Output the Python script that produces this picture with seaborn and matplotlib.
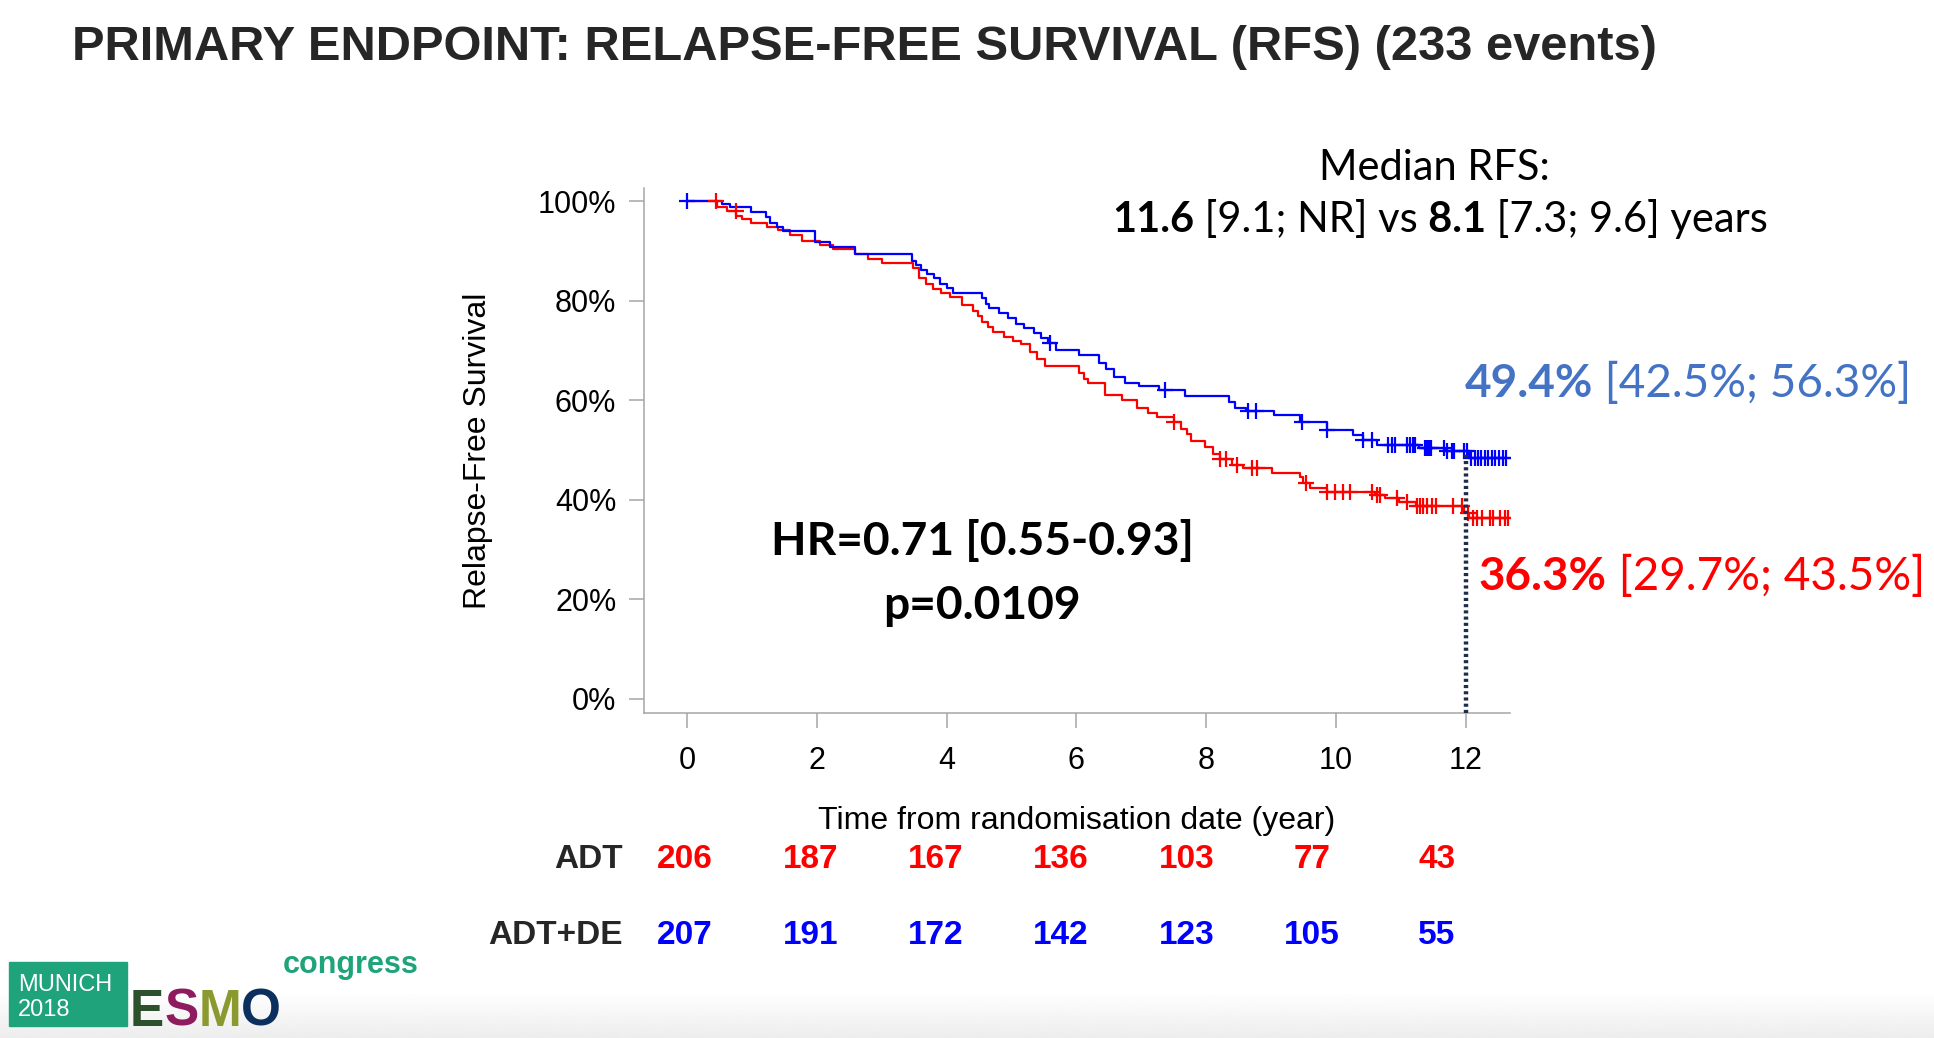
import numpy as np
import pandas as pd
import matplotlib
matplotlib.use("Agg")
import matplotlib.pyplot as plt
import seaborn as sns
from matplotlib.ticker import PercentFormatter
from matplotlib.patches import Rectangle
from matplotlib import font_manager

# ===============================
# Data
# ===============================
# ADT+DE arm: step times (years) and relapse-free survival (%)
time_adt_de = [0, 0.53, 0.66, 0.98, 1.21, 1.28, 1.38, 1.48, 1.97, 2.20,
               2.59, 3.46, 3.52, 3.60, 3.70, 3.80, 3.90, 4.00, 4.10, 4.54,
               4.60, 4.66, 4.80, 4.95, 5.07, 5.20, 5.34, 5.45, 5.56, 5.69,
               6.04, 6.35, 6.45, 6.58, 6.75, 6.97, 7.28, 7.68, 8.35, 8.45,
               8.61, 9.05, 9.45, 9.86, 10.27, 10.42, 10.63, 11.28, 11.69, 12.05]
surv_adt_de = [100, 99.5, 98.9, 97.9, 96.8, 95.6, 94.9, 94.1, 91.9, 90.9,
               89.4, 88.0, 87.2, 86.2, 85.4, 84.6, 83.3, 82.6, 81.5, 80.6,
               79.4, 78.6, 77.6, 76.5, 75.4, 74.6, 73.6, 72.6, 71.5, 70.2,
               69.0, 67.5, 66.2, 64.7, 63.5, 62.8, 62.1, 60.9, 59.6, 58.5,
               57.8, 57.1, 55.6, 54.0, 53.0, 52.0, 51.0, 50.3, 49.7, 48.3]
cens_adt_de = [0.0, 5.60, 7.37, 8.65, 8.77, 9.48, 9.86, 10.42, 10.56, 10.81,
               10.86, 10.91, 11.09, 11.14, 11.19, 11.22, 11.37, 11.40, 11.43, 11.46,
               11.66, 11.71, 11.79, 11.82, 11.97, 12.02, 12.09, 12.14, 12.19, 12.24,
               12.30, 12.35, 12.40, 12.45, 12.52, 12.58, 12.63]

# ADT arm
time_adt = [0, 0.46, 0.62, 0.76, 0.85, 0.98, 1.23, 1.40, 1.58, 1.77,
            2.05, 2.25, 2.59, 2.79, 3.00, 3.48, 3.57, 3.68, 3.79, 3.92,
            4.05, 4.23, 4.41, 4.48, 4.54, 4.63, 4.72, 4.88, 5.03, 5.15,
            5.29, 5.40, 5.51, 6.04, 6.12, 6.18, 6.44, 6.71, 6.93, 7.10,
            7.24, 7.50, 7.62, 7.70, 7.77, 7.99, 8.10, 8.21, 8.40, 8.57,
            9.01, 9.45, 9.50, 9.60, 9.86, 10.60, 10.75, 10.98, 11.24, 11.98,
            12.05]
surv_adt = [100, 98.9, 98.1, 97.0, 96.4, 95.7, 94.8, 94.2, 93.2, 92.0,
            91.2, 90.5, 89.5, 88.5, 87.6, 86.5, 84.5, 83.3, 82.3, 81.5,
            80.8, 79.2, 78.0, 76.9, 75.8, 74.7, 73.8, 72.8, 72.0, 71.4,
            69.7, 68.2, 66.8, 65.4, 64.2, 63.4, 61.1, 60.0, 58.5, 57.5,
            56.6, 55.7, 54.2, 53.2, 51.7, 50.6, 49.2, 48.1, 47.0, 46.3,
            45.3, 44.6, 43.3, 42.3, 41.6, 40.9, 40.3, 39.6, 38.7, 37.3,
            36.3]
cens_adt = [0.45, 0.75, 7.50, 8.21, 8.30, 8.47, 8.70, 8.79, 9.54, 9.86,
            9.99, 10.11, 10.22, 10.55, 10.63, 10.68, 10.94, 11.09, 11.25, 11.30,
            11.35, 11.40, 11.48, 11.55, 11.81, 11.94, 12.04, 12.12, 12.17, 12.25,
            12.38, 12.43, 12.53, 12.61, 12.66]

year_ticks = [0, 2, 4, 6, 8, 10, 12]
pct_ticks = [0, 20, 40, 60, 80, 100]
risk_adt = [206, 187, 167, 136, 103, 77, 43]
risk_adt_de = [207, 191, 172, 142, 123, 105, 55]
landmark_year = 12

RED = "#ff0000"
BLUE = "#0000ff"
GREY = "#a6a6a6"

# ===============================
# General setup
# ===============================
sns.set_theme(style="white")
plt.rcParams["font.family"] = ["Liberation Sans", "DejaVu Sans"]

installed = {f.name for f in font_manager.fontManager.ttflist}
NARROW = "Liberation Sans Narrow" if "Liberation Sans Narrow" in installed else "Liberation Sans"
CAL = ["Lato", "DejaVu Sans"]

W, H = 1934, 1038
fig = plt.figure(figsize=(W / 100, H / 100), dpi=100)
fig.patch.set_facecolor("white")


def fx(x):
    return x / W


def fy(y):
    return 1 - y / H


def step_at(times, values, at):
    idx = np.searchsorted(times, at, side="right") - 1
    return np.asarray(values)[np.clip(idx, 0, None)]


def rich_line(parts, x, y, size, color, ha="left", family=CAL):
    # parts: (text, weight) or (text, weight, colour); laid out one after another
    r = fig.canvas.get_renderer()
    items = []
    for p in parts:
        s, w = p[0], p[1]
        col = p[2] if len(p) > 2 else color
        t = fig.text(0, fy(y), s, fontsize=size, fontweight=w, color=col,
                     family=family, va="baseline", ha="left")
        items.append((t, t.get_window_extent(r).width))
    total = sum(wd for _, wd in items)
    start = x - total / 2 if ha == "center" else x
    for t, wd in items:
        t.set_x(fx(start))
        start += wd
    return start


# soft grey band at the bottom of the slide
bg = fig.add_axes([0, 0, 1, 48 / H], zorder=-5)
bg.imshow(np.linspace(1.0, 0.93, 60)[:, None], cmap="gray", vmin=0, vmax=1,
          aspect="auto", extent=[0, 1, 0, 1])
bg.axis("off")

# ===============================
# Kaplan-Meier panel
# ===============================
ax = fig.add_axes([fx(644.1), fy(712.9), (1509.7 - 644.1) / W, (712.9 - 187.9) / H])

arms = [(time_adt, surv_adt, cens_adt, RED), (time_adt_de, surv_adt_de, cens_adt_de, BLUE)]
for times, surv, cens, col in arms:
    end = max(cens)
    df = pd.DataFrame({"time": times + [end], "surv": surv + [surv[-1]]})
    sns.lineplot(data=df, x="time", y="surv", drawstyle="steps-post", color=col,
                 lw=1.6, ax=ax, estimator=None, sort=False)
    cdf = pd.DataFrame({"time": cens, "surv": step_at(times, surv, cens)})
    sns.scatterplot(data=cdf, x="time", y="surv", marker="+", s=140, color=col,
                    linewidth=1.6, ax=ax, zorder=3)

ax.set_xlim(-0.664, 12.68)
ax.set_ylim(-2.88, 102.7)

# dotted landmark line at 12 years
ax.plot([landmark_year, landmark_year],
        [ax.get_ylim()[0], step_at(time_adt_de, surv_adt_de, landmark_year)],
        color="#1f2d4d", lw=3.2, linestyle=(0, (0.7, 0.7)), dash_capstyle="butt", zorder=4)

ax.set_xticks(year_ticks)
ax.set_yticks(pct_ticks)
ax.yaxis.set_major_formatter(PercentFormatter(100, decimals=0))
ax.tick_params(axis="both", bottom=True, left=True, length=11, width=1.1, color=GREY,
               labelsize=22, labelcolor="black", direction="out")
ax.tick_params(axis="x", pad=12.5)
ax.tick_params(axis="y", pad=9)
for side in ["top", "right"]:
    ax.spines[side].set_visible(False)
for side in ["left", "bottom"]:
    ax.spines[side].set_color(GREY)
    ax.spines[side].set_linewidth(1.1)
ax.grid(False)

ax.set_xlabel("Time from randomisation date (year)", fontsize=23, color="black")
ax.xaxis.set_label_coords(0.5, -0.177)
ax.set_ylabel("Relapse-Free Survival", fontsize=23, color="black")
ax.yaxis.set_label_coords(-0.1745, 0.5)

# ===============================
# Numbers at risk
# ===============================
risk_x = np.linspace(685, 1437, len(risk_adt))
fig.text(fx(623), fy(868), "ADT", fontsize=24, fontweight="bold", ha="right", va="baseline")
fig.text(fx(623), fy(944), "ADT+DE", fontsize=24, fontweight="bold", ha="right", va="baseline")
for xp, a, b in zip(risk_x, risk_adt, risk_adt_de):
    fig.text(fx(xp), fy(868), str(a), fontsize=24, fontweight="bold", color=RED,
             ha="center", va="baseline")
    fig.text(fx(xp), fy(944), str(b), fontsize=24, fontweight="bold", color=BLUE,
             ha="center", va="baseline")

# ===============================
# Title and annotations
# ===============================
title_size = 41.5 if NARROW != "Liberation Sans" else 35.2
fig.text(fx(72), fy(59.5), "PRIMARY ENDPOINT: RELAPSE-FREE SURVIVAL (RFS) (233 events)",
         fontsize=title_size, fontweight="bold", family=[NARROW, "DejaVu Sans"],
         ha="left", va="baseline")

rich_line([("Median RFS:", "normal")], 1434, 180, 30, "black", ha="center")
rich_line([("11.6", "bold"), (" [9.1; NR] vs", "normal"), (" 8.1", "bold"),
           (" [7.3; 9.6] years", "normal")], 1440, 232, 30, "black", ha="center")

rich_line([("HR=0.71 [0.55-0.93]", "bold")], 982, 555, 33.2, "black", ha="center")
rich_line([("p=0.0109", "bold")], 982, 619, 33.2, "black", ha="center")

rich_line([("49.4%", "bold"), (" [42.5%; 56.3%]", "normal")], 1465, 397, 33, "#4472c4")
rich_line([("36.3%", "bold"), (" [29.7%; 43.5%]", "normal")], 1479, 590, 33, RED)

# ===============================
# Congress logo
# ===============================
fig.patches.append(Rectangle((fx(9.3), fy(1026)), (126.7 - 9.3) / W, (1026 - 961.7) / H,
                             transform=fig.transFigure, color="#1fa37a", zorder=1))
fig.text(fx(18), fy(991), "MUNICH", fontsize=17, color="white", family=[NARROW, "DejaVu Sans"],
         va="baseline")
fig.text(fx(18), fy(1016), "2018", fontsize=17, color="white", family=[NARROW, "DejaVu Sans"],
         va="baseline")
logo_end = rich_line([("E", "heavy", "#2c4f2c"), ("S", "heavy", "#8e1b5e"),
                      ("M", "heavy", "#8a9a2e"), ("O", "heavy", "#0c2f5e")],
                     130, 1026, 37, "black", family=[NARROW, "DejaVu Sans"])
fig.text(fx(logo_end + 2), fy(973), "congress", fontsize=22, fontweight="bold", color="#1fa37a",
         family=[NARROW, "DejaVu Sans"], va="baseline")

fig.savefig("out.png", dpi=100)
